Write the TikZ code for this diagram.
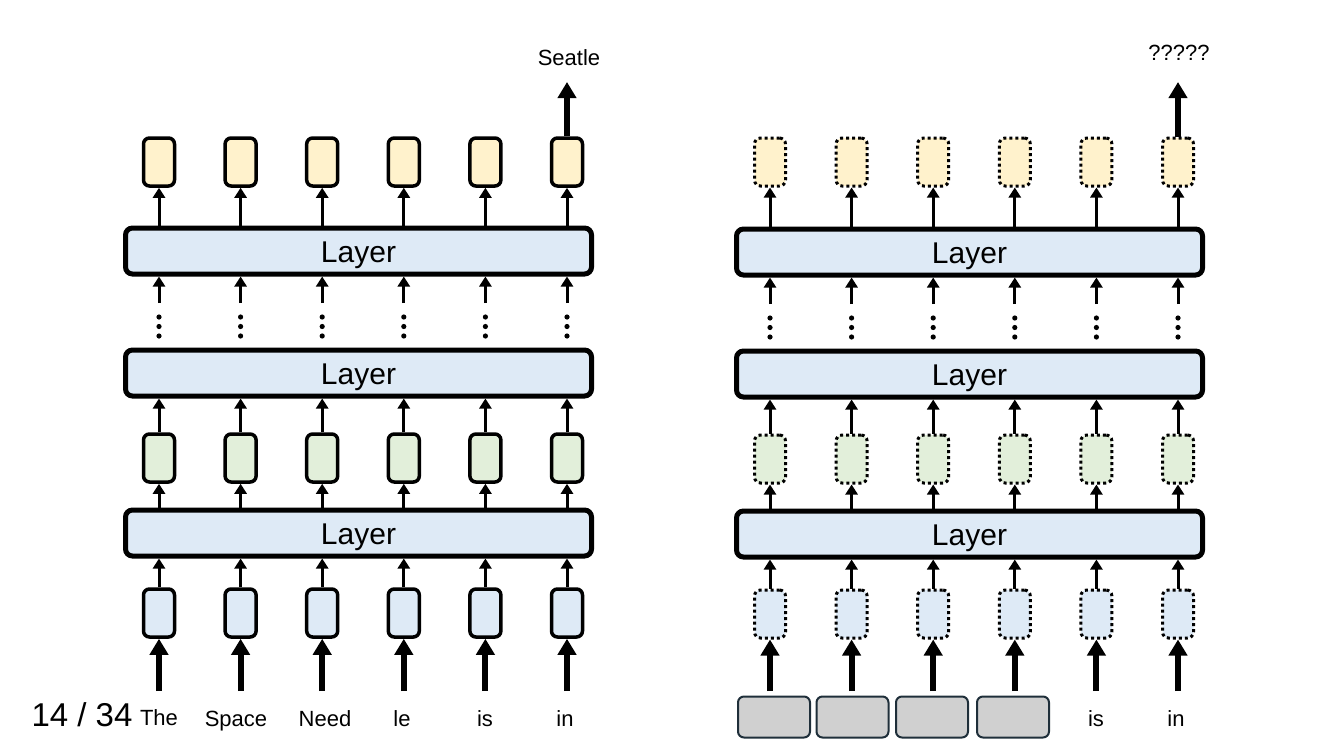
\documentclass[tikz,border=0pt]{standalone}
\usepackage{fontspec}
\setmainfont{Liberation Sans}
\usetikzlibrary{arrows.meta}

\definecolor{tokblue}{HTML}{DEEAF6}
\definecolor{hidgreen}{HTML}{E2EFDA}
\definecolor{outyellow}{HTML}{FFF2CC}
\definecolor{maskgray}{HTML}{D0D0D0}
\definecolor{maskedge}{HTML}{1F2F3A}

\tikzset{
  vec/.style={rectangle,rounded corners=6pt,draw,line width=3.5pt,
    minimum width=31pt,minimum height=48pt,inner sep=0pt},
  ghost/.style={vec,line width=3pt,dash pattern=on 3pt off 3pt},
  layer/.style={rectangle,rounded corners=7pt,draw,line width=5pt,fill=tokblue,
    minimum width=466pt,minimum height=46pt,text height=22pt,text depth=0pt,
    font=\fontsize{30}{32}\selectfont},
  flow/.style={line width=3pt,-{Triangle[length=10pt,width=12pt]}},
  bigflow/.style={line width=6pt,-{Triangle[length=16pt,width=18pt]}},
  word/.style={font=\fontsize{22}{24}\selectfont,inner sep=0pt,anchor=base},
  mask/.style={rectangle,rounded corners=6pt,draw=maskedge,line width=2pt,
    fill=maskgray,minimum width=72pt,minimum height=41pt}
}

\begin{document}
\begin{tikzpicture}[x=1pt,y=-1pt]
  \useasboundingbox (0,0) rectangle (1334,750);

  % left: the real run
  \node[layer] (layL1) at (358.5,533) {Layer};
  \node[layer] (layL2) at (358.5,373) {Layer};
  \node[layer] (layL3) at (358.5,251) {Layer};

  \foreach \i/\x in {1/159,2/240.6,3/322.2,4/403.8,5/485.4,6/567} {
    \node[vec,fill=tokblue] (tokL\i) at (\x,613) {};
    \node[vec,fill=hidgreen] (hidL\i) at (\x,458) {};
    \node[vec,fill=outyellow] (outL\i) at (\x,162) {};
    \coordinate (inL\i) at (\x,691);
    \coordinate (dotL\i) at (\x,303);
    \draw[bigflow] (inL\i) -- (tokL\i);
    \draw[flow] (tokL\i) -- (tokL\i |- layL1.south);
    \draw[flow] (hidL\i |- layL1.north) -- (hidL\i);
    \draw[flow] (hidL\i) -- (hidL\i |- layL2.south);
    \draw[flow] (dotL\i) -- (dotL\i |- layL3.south);
    \draw[flow] (outL\i |- layL3.north) -- (outL\i);
    \foreach \d in {317,326.5,336} \fill (\x,\d) circle (2.6pt);
  }

  \node[word] (wL1) at (159,725) {The};
  \node[word] (wL2) at (236,726) {Space};
  \node[word] (wL3) at (325,726) {Need};
  \node[word] (wL4) at (402,726) {le};
  \node[word] (wL5) at (485,726) {is};
  \node[word] (wL6) at (565,726) {in};

  \coordinate (predL) at (567,82);
  \draw[bigflow] (outL6) -- (predL);
  \node[word] (ansL) at (569,65) {Seatle};

  \node[font=\fontsize{33}{34}\selectfont,inner sep=0pt,anchor=base] (page) at (82,726) {14 / 34};

  % right: the masked run
  \node[layer] (layR1) at (969.5,534) {Layer};
  \node[layer] (layR2) at (969.5,374) {Layer};
  \node[layer] (layR3) at (969.5,252) {Layer};

  \foreach \i/\x in {1/770,2/851.6,3/933.2,4/1014.8,5/1096.4,6/1178} {
    \node[ghost,fill=tokblue] (tokR\i) at (\x,614) {};
    \node[ghost,fill=hidgreen] (hidR\i) at (\x,459) {};
    \node[ghost,fill=outyellow] (outR\i) at (\x,162) {};
    \coordinate (inR\i) at (\x,691);
    \coordinate (dotR\i) at (\x,304);
    \draw[bigflow] (inR\i) -- (tokR\i);
    \draw[flow] (tokR\i) -- (tokR\i |- layR1.south);
    \draw[flow] (hidR\i |- layR1.north) -- (hidR\i);
    \draw[flow] (hidR\i) -- (hidR\i |- layR2.south);
    \draw[flow] (dotR\i) -- (dotR\i |- layR3.south);
    \draw[flow] (outR\i |- layR3.north) -- (outR\i);
    \foreach \d in {318,327.5,337} \fill (\x,\d) circle (2.6pt);
  }

  \node[mask] (mR1) at (774,717) {};
  \node[mask] (mR2) at (852.5,717) {};
  \node[mask] (mR3) at (932,717) {};
  \node[mask] (mR4) at (1013,717) {};
  \node[word] (wR5) at (1096,726) {is};
  \node[word] (wR6) at (1176,726) {in};

  \coordinate (predR) at (1178,82);
  \draw[bigflow] (outR6) -- (predR);
  \node[word] (ansR) at (1179,60) {?????};
\end{tikzpicture}
\end{document}
